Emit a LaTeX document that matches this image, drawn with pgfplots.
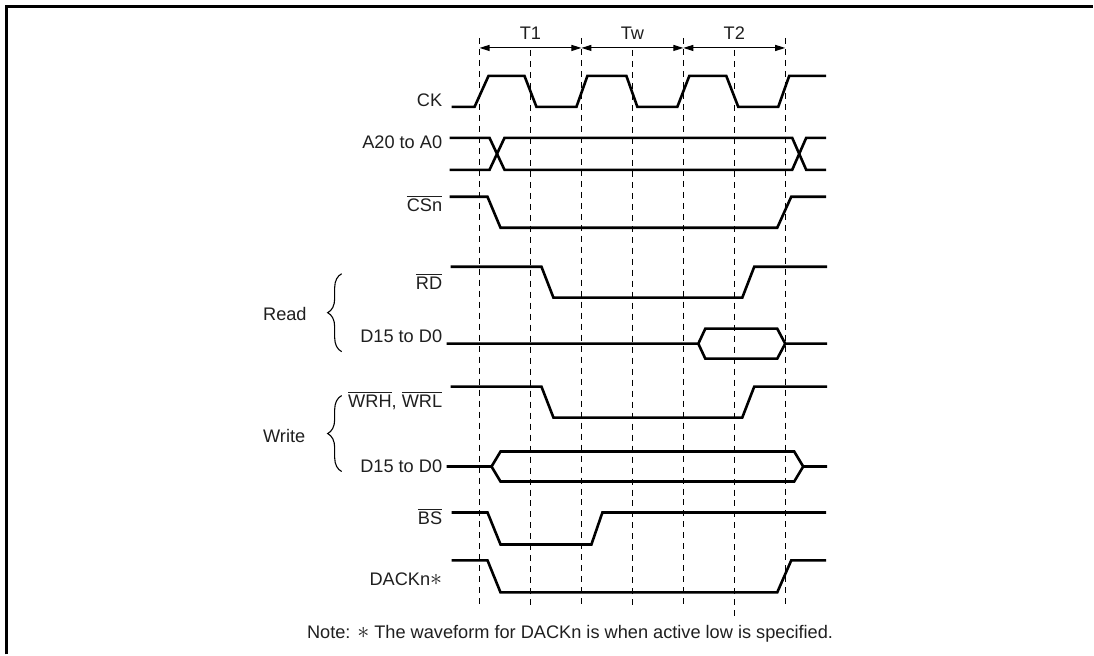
\documentclass[border=0pt]{standalone}
\usepackage{fontspec}
\setmainfont{Liberation Sans}
\usepackage{pgfplots}
\pgfplotsset{compat=1.18}
\usetikzlibrary{arrows.meta,decorations.pathreplacing}
\newcommand\ol[1]{$\overline{\mbox{#1}}$}
\newcommand\astr{{\large$\ast$}}
\tikzset{
  sig/.style={black, line width=1.3pt, mark=none, line join=miter},
  dl/.style={black, line width=0.55pt, mark=none, dash pattern=on 3pt off 2.5pt},
  ar/.style={black, line width=0.55pt, mark=none, {Triangle[length=5pt,width=3pt]}-{Triangle[length=5pt,width=3pt]}},
  lab/.style={font=\fontsize{9.1}{10}\selectfont, text=black!88, inner sep=0pt}}
\begin{document}
\begin{tikzpicture}
\begin{axis}[hide axis, scale only axis, width=547pt, height=327.5pt,
  xmin=0, xmax=1094, ymin=0, ymax=655, y dir=reverse, clip=false]
\path (axis cs:0,0) rectangle (axis cs:1094,655);
% frame
\addplot[black, line width=1.1pt, mark=none] coordinates {(6.5,655)(6.5,6.5)(1094,6.5)};
% dashed guides
\addplot[dl] coordinates {(480,38)(480,608)};
\addplot[dl] coordinates {(531,50)(531,608)};
\addplot[dl] coordinates {(582,38)(582,608)};
\addplot[dl] coordinates {(633,50)(633,608)};
\addplot[dl] coordinates {(684,38)(684,608)};
\addplot[dl] coordinates {(735,50)(735,617)};
\addplot[dl] coordinates {(786,38)(786,608)};
% T arrows
\addplot[ar] coordinates {(480,48)(582,48)};
\addplot[ar] coordinates {(582,48)(684,48)};
\addplot[ar] coordinates {(684,48)(786,48)};
\node[lab, anchor=base] at (axis cs:531,40) {T1};
\node[lab, anchor=base] at (axis cs:633,40) {Tw};
\node[lab, anchor=base] at (axis cs:735,40) {T2};
% CK
\addplot[sig] coordinates {(452,107)(475,107)(489,76)(525,76)(537,107)(577,107)(588,76)(627,76)(638,107)(678,107)(690,76)(727,76)(739,107)(779,107)(790,76)(827,76)};
% A20 to A0
\addplot[sig] coordinates {(450,138)(490,138)(505,170)(793,170)(807,138)(827,138)};
\addplot[sig] coordinates {(450,170)(490,170)(505,138)(793,138)(807,170)(827,170)};
% CSn
\addplot[sig] coordinates {(450,197)(488,197)(501,228)(778,228)(792,197)(827,197)};
% RD
\addplot[sig] coordinates {(451,267)(542,267)(554,298)(743,298)(755,267)(828,267)};
% D15 read
\addplot[sig] coordinates {(447,344)(699,344)(706,329)(778,329)(786,344)(828,344)};
\addplot[sig] coordinates {(699,344)(706,359)(778,359)(786,344)};
% WRH WRL
\addplot[sig] coordinates {(451,387)(542,387)(554,418)(743,418)(755,387)(828,387)};
% D15 write
\addplot[sig] coordinates {(447,467)(492,467)(501,452)(795,452)(804,467)(828,467)};
\addplot[sig] coordinates {(492,467)(501,482)(795,482)(804,467)};
% BS
\addplot[sig] coordinates {(452,513)(488,513)(501,545)(592,545)(603,513)(827,513)};
% DACKn
\addplot[sig] coordinates {(452,561)(488,561)(501,593)(778,593)(792,561)(827,561)};
% labels
\node[lab, anchor=base east] at (axis cs:443,107) {CK};
\node[lab, anchor=base east] at (axis cs:443,149) {A20 to A0};
\node[lab, anchor=base east] at (axis cs:443,212) {\ol{CSn}};
\node[lab, anchor=base east] at (axis cs:443,290) {\ol{RD}};
\node[lab, anchor=base east] at (axis cs:443,343) {D15 to D0};
\node[lab, anchor=base east] at (axis cs:443,408) {\ol{WRH}, \ol{WRL}};
\node[lab, anchor=base east] at (axis cs:443,473) {D15 to D0};
\node[lab, anchor=base east] at (axis cs:443,525) {\ol{BS}};
\node[lab, anchor=base east] at (axis cs:443,586) {DACKn\astr};
\node[lab, anchor=base west] at (axis cs:263,321) {Read};
\node[lab, anchor=base west] at (axis cs:263,443) {Write};
\node[lab, anchor=base west] at (axis cs:307,639) {Note: \astr{} The waveform for DACKn is when active low is specified.};
% braces
\draw[decorate, decoration={brace, amplitude=7pt}, line width=0.55pt] (axis cs:342,352) -- (axis cs:342,274);
\draw[decorate, decoration={brace, amplitude=7pt}, line width=0.55pt] (axis cs:342,472) -- (axis cs:342,396);
\end{axis}
\end{tikzpicture}
\end{document}
